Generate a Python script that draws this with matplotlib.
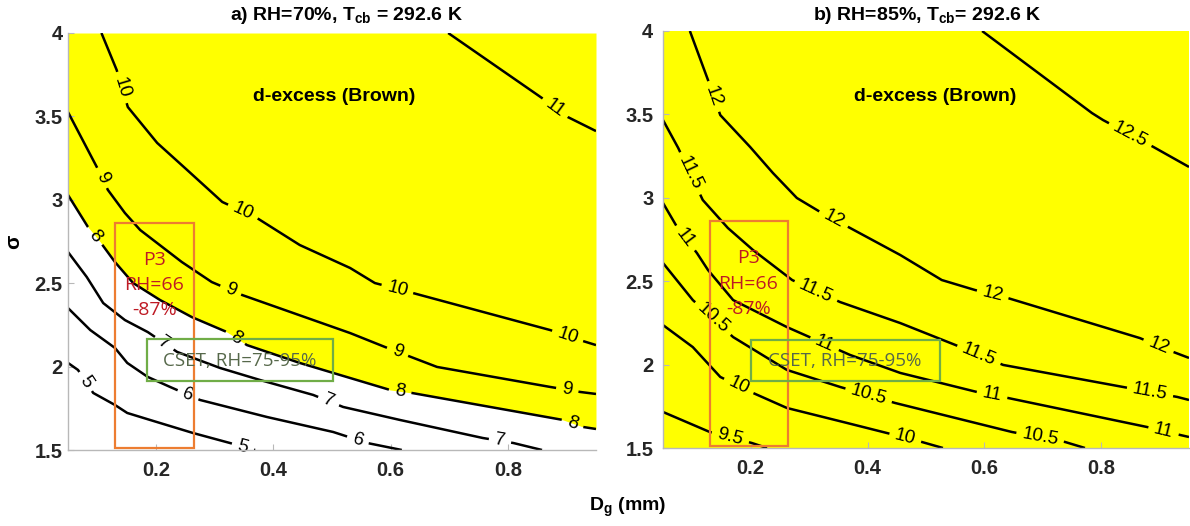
import numpy as np
import matplotlib
matplotlib.use("Agg")
import matplotlib.pyplot as plt
from matplotlib.patches import Rectangle
from matplotlib.textpath import TextPath
from matplotlib.font_manager import FontProperties

plt.rcParams['font.family'] = ['Liberation Sans', 'DejaVu Sans']
plt.rcParams['mathtext.fontset'] = 'custom'
plt.rcParams['mathtext.rm'] = 'Liberation Sans'
plt.rcParams['mathtext.bf'] = 'Liberation Sans:bold'

# ---- panel a) RH=70% : contour lines (x = Dg mm, y = sigma) ----
a5_x = [0.05, 0.067, 0.093, 0.130, 0.151, 0.190, 0.263, 0.326, 0.369]
a5_y = [2.022, 1.980, 1.842, 1.770, 1.722, 1.680, 1.602, 1.542, 1.50]
a5_lx, a5_ly = [0.079, 0.348], [1.908, 1.518]

a6_x = [0.05, 0.088, 0.130, 0.151, 0.186, 0.224, 0.275, 0.389, 0.502, 0.560, 0.619]
a6_y = [2.351, 2.219, 2.112, 2.022, 1.938, 1.878, 1.800, 1.698, 1.608, 1.542, 1.50]
a6_lx, a6_ly = [0.253, 0.543], [1.818, 1.548]

a7_x = [0.05, 0.082, 0.110, 0.147, 0.186, 0.236, 0.309, 0.377, 0.468, 0.519, 0.616, 0.757, 0.809, 0.858]
a7_y = [2.687, 2.537, 2.381, 2.279, 2.207, 2.088, 1.992, 1.920, 1.830, 1.758, 1.680, 1.572, 1.542, 1.50]
a7_lx, a7_ly = [0.212, 0.493, 0.786], [2.129, 1.782, 1.548]

a8_x = [0.05, 0.084, 0.105, 0.130, 0.161, 0.207, 0.261, 0.321, 0.355, 0.445, 0.502, 0.599, 0.636, 0.894, 0.928, 0.95]
a8_y = [3.029, 2.837, 2.747, 2.627, 2.501, 2.399, 2.297, 2.207, 2.129, 2.022, 1.962, 1.860, 1.842, 1.680, 1.638, 1.626]
a8_lx, a8_ly = [0.094, 0.335, 0.616, 0.909], [2.777, 2.171, 1.848, 1.650]

a9_x = [0.05, 0.099, 0.118, 0.147, 0.173, 0.244, 0.295, 0.347, 0.531, 0.590, 0.630, 0.679, 0.872, 0.923, 0.95]
a9_y = [3.526, 3.197, 3.059, 2.921, 2.819, 2.627, 2.507, 2.429, 2.201, 2.118, 2.064, 1.998, 1.878, 1.848, 1.836]
a9_lx, a9_ly = [0.108, 0.326, 0.611, 0.901], [3.131, 2.447, 2.082, 1.860]

a10_x = [0.107, 0.133, 0.152, 0.202, 0.253, 0.313, 0.372, 0.445, 0.531, 0.573, 0.638, 0.872, 0.928, 0.95]
a10_y = [4.0, 3.778, 3.556, 3.341, 3.179, 2.987, 2.891, 2.729, 2.591, 2.501, 2.441, 2.219, 2.153, 2.129]
a10_lx, a10_ly = [0.139, 0.347, 0.611, 0.901], [3.670, 2.921, 2.459, 2.177]

a11_x = [0.698, 0.858, 0.902, 0.95]
a11_y = [4.0, 3.61, 3.496, 3.412]
a11_lx, a11_ly = [0.880], [3.55]

# ---- panel b) RH=85% ----
b95_x = [0.05, 0.130, 0.202, 0.228]
b95_y = [1.716, 1.596, 1.530, 1.50]
b95_lx, b95_ly = [0.165], [1.560]

b10_x = [0.05, 0.101, 0.148, 0.204, 0.262, 0.365, 0.433, 0.493, 0.529]
b10_y = [2.237, 2.105, 1.926, 1.830, 1.740, 1.650, 1.590, 1.536, 1.50]
b10_lx, b10_ly = [0.178, 0.464], [1.860, 1.554]

b105_x = [0.05, 0.101, 0.170, 0.262, 0.353, 0.447, 0.647, 0.738, 0.772]
b105_y = [2.609, 2.387, 2.165, 1.968, 1.866, 1.770, 1.596, 1.536, 1.50]
b105_lx, b105_ly = [0.130, 0.401, 0.695], [2.255, 1.806, 1.560]

b11_x = [0.05, 0.074, 0.108, 0.127, 0.170, 0.262, 0.370, 0.456, 0.587, 0.640, 0.878, 0.935, 0.95]
b11_y = [2.969, 2.825, 2.669, 2.567, 2.387, 2.225, 2.058, 1.950, 1.836, 1.800, 1.626, 1.578, 1.566]
b11_lx, b11_ly = [0.084, 0.327, 0.613, 0.906], [2.747, 2.129, 1.818, 1.596]

b115_x = [0.05, 0.076, 0.118, 0.161, 0.204, 0.271, 0.353, 0.456, 0.550, 0.632, 0.837, 0.930, 0.95]
b115_y = [3.466, 3.299, 2.987, 2.819, 2.687, 2.507, 2.375, 2.249, 2.118, 1.998, 1.866, 1.806, 1.788]
b115_lx, b115_ly = [0.091, 0.310, 0.589, 0.883], [3.137, 2.429, 2.046, 1.830]

b12_x = [0.096, 0.127, 0.148, 0.199, 0.238, 0.279, 0.319, 0.367, 0.456, 0.527, 0.584, 0.640, 0.866, 0.923, 0.95]
b12_y = [4.0, 3.706, 3.496, 3.305, 3.149, 2.999, 2.915, 2.825, 2.657, 2.507, 2.447, 2.399, 2.159, 2.076, 2.040]
b12_lx, b12_ly = [0.134, 0.341, 0.613, 0.897], [3.604, 2.867, 2.405, 2.105]

b125_x = [0.596, 0.784, 0.803, 0.889, 0.95]
b125_y = [4.0, 3.508, 3.466, 3.305, 3.185]
b125_lx, b125_ly = [0.849], [3.376]

panel_a = [("5", a5_x, a5_y, a5_lx, a5_ly), ("6", a6_x, a6_y, a6_lx, a6_ly),
           ("7", a7_x, a7_y, a7_lx, a7_ly), ("8", a8_x, a8_y, a8_lx, a8_ly),
           ("9", a9_x, a9_y, a9_lx, a9_ly), ("10", a10_x, a10_y, a10_lx, a10_ly),
           ("11", a11_x, a11_y, a11_lx, a11_ly)]
panel_b = [("9.5", b95_x, b95_y, b95_lx, b95_ly), ("10", b10_x, b10_y, b10_lx, b10_ly),
           ("10.5", b105_x, b105_y, b105_lx, b105_ly), ("11", b11_x, b11_y, b11_lx, b11_ly),
           ("11.5", b115_x, b115_y, b115_lx, b115_ly), ("12", b12_x, b12_y, b12_lx, b12_ly),
           ("12.5", b125_x, b125_y, b125_lx, b125_ly)]

yticks = [1.5, 2, 2.5, 3, 3.5, 4]
ytick_labels = ["1.5", "2", "2.5", "3", "3.5", "4"]
xticks = [0.2, 0.4, 0.6, 0.8]
xtick_labels = ["0.2", "0.4", "0.6", "0.8"]

YELLOW = "#FFFF00"
ORANGE = "#ED7D31"
GREEN = "#70AD47"
LAB_FS = 13.5


def draw_contour(ax, text, xs, ys, lxs, lys):
    P = ax.transData.transform(np.column_stack([xs, ys]))
    seg = np.diff(P, axis=0)
    seglen = np.hypot(seg[:, 0], seg[:, 1])
    s = np.concatenate([[0], np.cumsum(seglen)])
    L = s[-1]
    w = TextPath((0, 0), text, size=LAB_FS,
                 prop=FontProperties(family='Liberation Sans')).get_extents().width
    w = w * ax.figure.dpi / 72.0
    g = w / 2 + 7

    def point_at(sv):
        sv = min(max(sv, 0), L)
        i = min(max(np.searchsorted(s, sv) - 1, 0), len(seg) - 1)
        t = (sv - s[i]) / seglen[i]
        return P[i] + t * seg[i]

    gaps = []
    for lx, ly in zip(lxs, lys):
        q = ax.transData.transform((lx, ly))
        best = None
        for i in range(len(seg)):
            t = np.clip(np.dot(q - P[i], seg[i]) / seglen[i] ** 2, 0, 1)
            d = np.hypot(*(P[i] + t * seg[i] - q))
            if best is None or d < best[0]:
                best = (d, s[i] + t * seglen[i])
        gaps.append(best[1])
    gaps.sort()

    # visible pieces of the line
    start = 0.0
    pieces = []
    for s0 in gaps:
        pieces.append((start, s0 - g))
        start = s0 + g
    pieces.append((start, L))
    inv = ax.transData.inverted()
    for a, b in pieces:
        if b - a <= 0:
            continue
        pts = [point_at(a)] + [P[k] for k in range(len(P)) if a < s[k] < b] + [point_at(b)]
        d = inv.transform(np.array(pts))
        ax.plot(d[:, 0], d[:, 1], color='black', lw=1.8, solid_capstyle='butt', zorder=3)

    for s0 in gaps:
        c = point_at(s0)
        v = point_at(s0 + g) - point_at(s0 - g)
        ang = np.degrees(np.arctan2(v[1], v[0]))
        if ang > 90:
            ang -= 180
        elif ang < -90:
            ang += 180
        cx, cy = inv.transform(c)
        ax.text(cx, cy, text, rotation=ang, rotation_mode='anchor', ha='center',
                va='center', fontsize=LAB_FS, color='black', zorder=4)


def style_axes(ax, pad_y):
    ax.set_xlim(0.05, 0.95)
    ax.set_ylim(1.5, 4)
    ax.set_xticks(xticks)
    ax.set_xticklabels(xtick_labels)
    ax.set_yticks(yticks)
    ax.set_yticklabels(ytick_labels)
    for sp in ['top', 'right']:
        ax.spines[sp].set_visible(False)
    for sp in ['left', 'bottom']:
        ax.spines[sp].set_color('#b8b8b8')
        ax.spines[sp].set_linewidth(1.0)
        ax.spines[sp].set_zorder(5)
    ax.tick_params(direction='in', length=4, color='#b8b8b8', labelsize=14.5,
                   labelcolor='#262626')
    ax.tick_params(axis='x', pad=8)
    ax.tick_params(axis='y', pad=pad_y)
    for lab in ax.get_xticklabels() + ax.get_yticklabels():
        lab.set_fontweight('bold')


fig = plt.figure(figsize=(11.9, 5.26), dpi=100)
ax1 = fig.add_axes([68 / 1190, 1 - 450 / 526, 528 / 1190, 417 / 526])
ax2 = fig.add_axes([663 / 1190, 1 - 448 / 526, 526 / 1190, 417 / 526])
style_axes(ax1, 4)
style_axes(ax2, 7)

# yellow region: d-excess above 8 in panel a, everywhere in panel b
ax1.fill_between(a8_x, a8_y, 4, color=YELLOW, lw=0, zorder=1)
ax2.set_facecolor(YELLOW)

for text, xs, ys, lxs, lys in panel_a:
    draw_contour(ax1, text, xs, ys, lxs, lys)
for text, xs, ys, lxs, lys in panel_b:
    draw_contour(ax2, text, xs, ys, lxs, lys)

ann = dict(family=['Open Sans', 'DejaVu Sans'], fontsize=14, ha='center', va='center', zorder=7)
# P3 boxes and CSET boxes
ax1.add_patch(Rectangle((0.13, 1.51), 0.134, 1.35, fill=False, ec=ORANGE, lw=1.6, zorder=6))
ax2.add_patch(Rectangle((0.13, 1.51), 0.134, 1.35, fill=False, ec=ORANGE, lw=1.6, zorder=6))
ax1.add_patch(Rectangle((0.185, 1.914), 0.317, 0.251, fill=False, ec=GREEN, lw=1.6, zorder=6))
ax2.add_patch(Rectangle((0.201, 1.902), 0.323, 0.245, fill=False, ec=GREEN, lw=1.6, zorder=6))
ax1.text(0.197, 2.49, "P3\nRH=66\n-87%", color='#BE1A24', linespacing=1.52, **ann)
ax2.text(0.196, 2.485, "P3\nRH=66\n-87%", color='#BE1A24', linespacing=1.52, **ann)
ann['fontsize'] = 13.5
ax1.text(0.343, 2.034, "CSET, RH=75-95%", color='#56684A', **ann)
ax2.text(0.361, 2.022, "CSET, RH=75-95%", color='#56684A', **ann)

ax1.text(0.504, 0.847, "d-excess (Brown)", transform=ax1.transAxes, ha='center', va='center',
         fontsize=14, fontweight='bold', zorder=7)
ax2.text(0.517, 0.842, "d-excess (Brown)", transform=ax2.transAxes, ha='center', va='center',
         fontsize=14, fontweight='bold', zorder=7)

fig.text(347 / 1190, 1 - 20 / 526, r"a) RH=70%, T$_{\mathbf{cb}}$ = 292.6 K", ha='center',
         va='baseline', fontsize=14, fontweight='bold')
fig.text(927 / 1190, 1 - 20 / 526, r"b) RH=85%, T$_{\mathbf{cb}}$= 292.6 K", ha='center',
         va='baseline', fontsize=14, fontweight='bold')
fig.text(628 / 1190, 1 - 507 / 526, r"D$_{\mathbf{g}}$ (mm)", ha='center', va='center',
         fontsize=14, fontweight='bold')
fig.text(14 / 1190, 1 - 242 / 526, "σ", rotation=90, ha='center', va='center',
         fontsize=15, fontweight='bold')

fig.savefig("out.png", dpi=100)
